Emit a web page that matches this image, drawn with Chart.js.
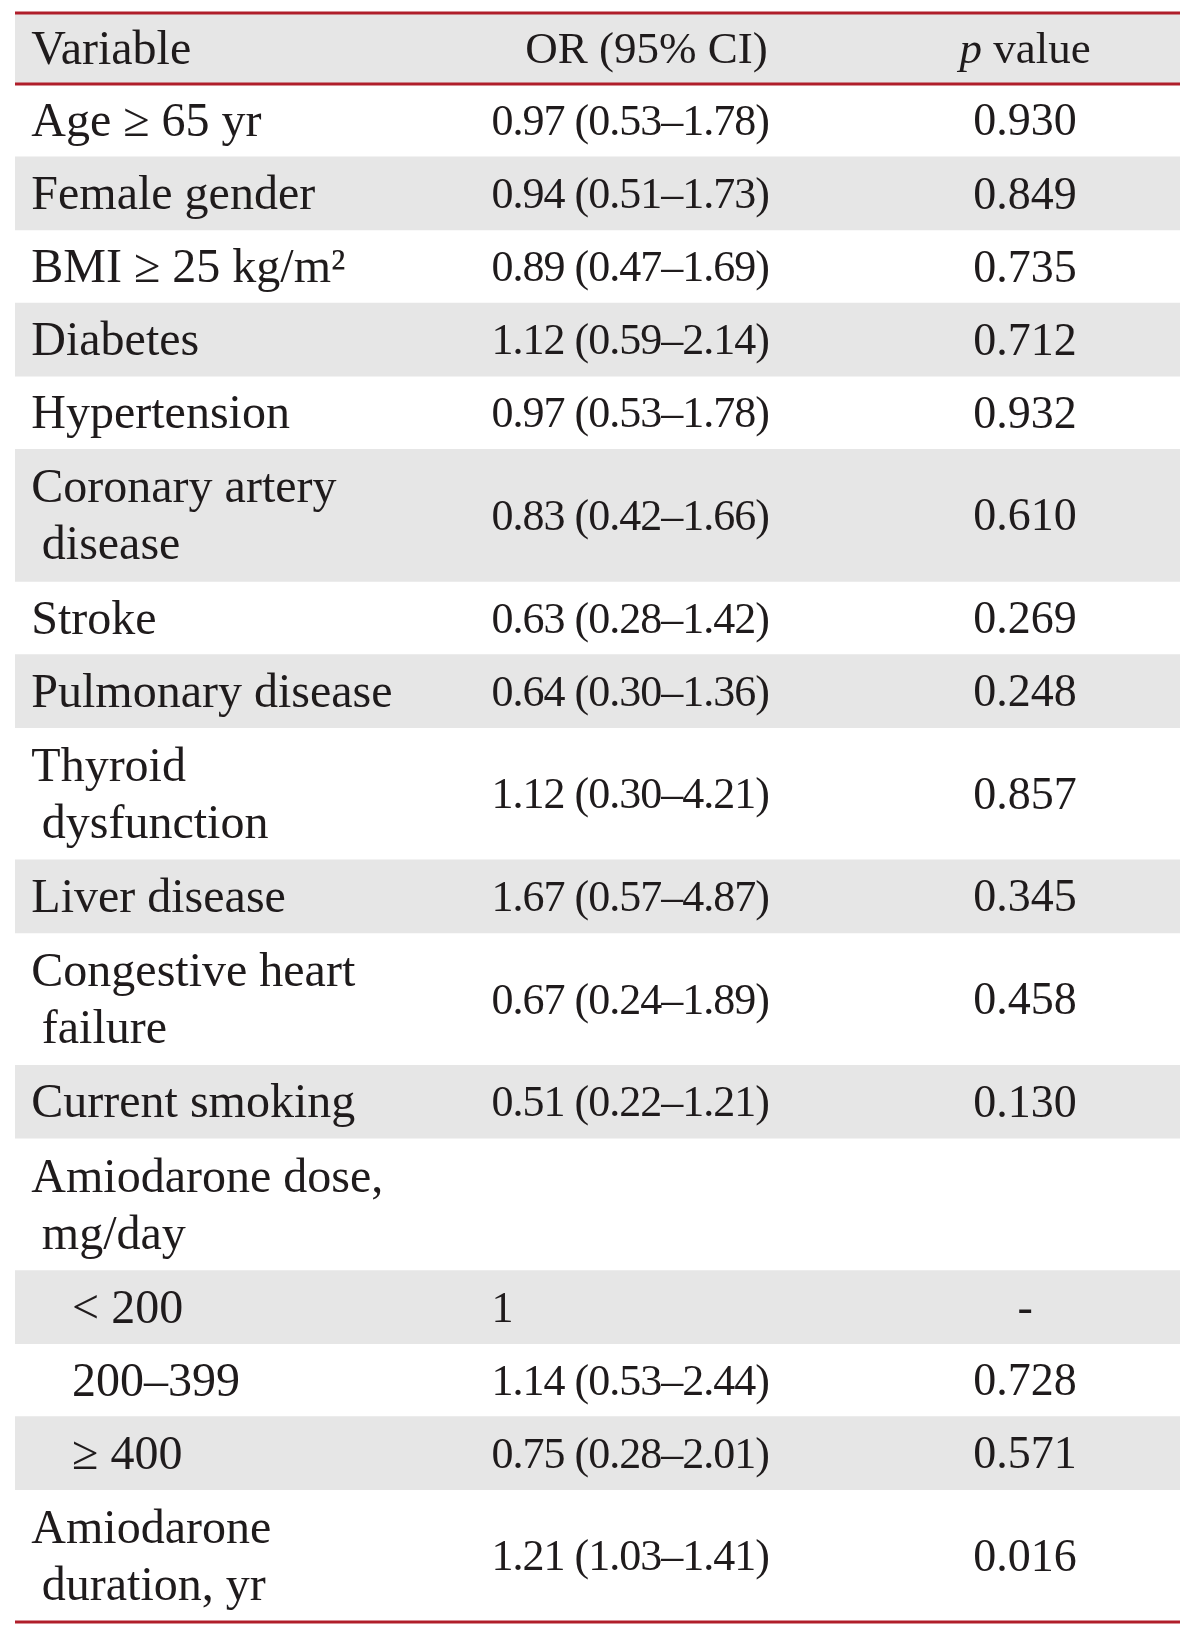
<!DOCTYPE html>
<html>
<head>
<meta charset="utf-8">
<script src="https://cdn.jsdelivr.net/npm/chart.js@4.4.1/dist/chart.umd.min.js"></script>
<style>
html, body { margin: 0; padding: 0; background: #fff; }
#wrap { width: 1200px; height: 1635px; position: relative; }
</style>
</head>
<body>
<div id="wrap"><canvas id="chart-or-table"></canvas></div>
<script>
// table content
var headers = ['Variable', 'OR (95% CI)', 'value'];
var variables = [
    'Age ≥ 65 yr', 'Female gender', 'BMI ≥ 25 kg/m²', 'Diabetes', 'Hypertension',
    'Coronary artery\ndisease', 'Stroke', 'Pulmonary disease', 'Thyroid\ndysfunction',
    'Liver disease', 'Congestive heart\nfailure', 'Current smoking',
    'Amiodarone dose,\nmg/day', '< 200', '200–399', '≥ 400', 'Amiodarone\nduration, yr'
];
var subRow = [false, false, false, false, false, false, false, false, false,
    false, false, false, false, true, true, true, false];
var orValues = [0.97, 0.94, 0.89, 1.12, 0.97, 0.83, 0.63, 0.64, 1.12, 1.67, 0.67, 0.51, null, 1, 1.14, 0.75, 1.21];
var ciLow = [0.53, 0.51, 0.47, 0.59, 0.53, 0.42, 0.28, 0.30, 0.30, 0.57, 0.24, 0.22, null, null, 0.53, 0.28, 1.03];
var ciHigh = [1.78, 1.73, 1.69, 2.14, 1.78, 1.66, 1.42, 1.36, 4.21, 4.87, 1.89, 1.21, null, null, 2.44, 2.01, 1.41];
var pValues = ['0.930', '0.849', '0.735', '0.712', '0.932', '0.610', '0.269', '0.248', '0.857',
    '0.345', '0.458', '0.130', '', '-', '0.728', '0.571', '0.016'];

var textColor = '#1f1b1c';
var stripeColor = '#e6e6e6';
var ruleColor = '#b01e2a';
var fontFamily = '"Liberation Serif", "DejaVu Serif", serif';
var labelFont = '48px ' + fontFamily;
var numFont = '44px ' + fontFamily;

// row heights in "line" units
var headerUnits = 0.97, oneLine = 1, twoLines = 1.81, lineGap = 0.78;
var rowStart = [], rowEnd = [];
var pos = headerUnits;
variables.forEach(function (v) {
    var h = v.split('\n').length > 1 ? twoLines : oneLine;
    rowStart.push(pos);
    pos += h;
    rowEnd.push(pos);
});
var totalUnits = pos;

// column anchors on a 0-100 scale across the table
var colVar = 1.4, colCont = 2.3, colSub = 4.9, colOr = 40.9, colOrHead = 54.2, colP = 86.7;
var textShift = 3; // px, optical centring of serif glyphs

function fmt(v) { return v.toFixed(2); }
function orText(i) {
    if (orValues[i] === null) return '';
    if (ciLow[i] === null) return String(orValues[i]);
    return fmt(orValues[i]) + ' (' + fmt(ciLow[i]) + '–' + fmt(ciHigh[i]) + ')';
}

// gray stripes: header + every second body row
var datasets = [{
    data: [[0, headerUnits]],
    backgroundColor: stripeColor
}];
for (var i = 1; i < variables.length; i += 2) {
    datasets.push({ data: [[rowStart[i], rowEnd[i]]], backgroundColor: stripeColor });
}
datasets.forEach(function (d) {
    d.grouped = false;
    d.borderWidth = 0;
    d.categoryPercentage = 1;
    d.barPercentage = 1;
});

var tableText = {
    id: 'tableText',
    afterDatasetsDraw: function (chart) {
        var ctx = chart.ctx;
        var y = chart.scales.y;
        var cx = chart.scales.colX;
        var area = chart.chartArea;
        var py = function (u) { return y.getPixelForValue(u) + textShift; };
        ctx.save();

        // red rules
        ctx.strokeStyle = ruleColor;
        ctx.lineWidth = 3;
        [0, headerUnits, totalUnits].forEach(function (u) {
            var ly = y.getPixelForValue(u);
            ctx.beginPath();
            ctx.moveTo(area.left, ly);
            ctx.lineTo(area.right, ly);
            ctx.stroke();
        });

        ctx.fillStyle = textColor;
        ctx.textBaseline = 'middle';

        // header
        var hy = py(headerUnits / 2);
        ctx.font = labelFont;
        ctx.textAlign = 'left';
        ctx.fillText(headers[0], cx.getPixelForValue(colVar), hy);
        ctx.font = '45px ' + fontFamily;
        ctx.textAlign = 'center';
        ctx.fillText(headers[1], cx.getPixelForValue(colOrHead), hy);
        var pw = ctx.measureText(' ' + headers[2]).width;
        ctx.font = 'italic 45px ' + fontFamily;
        var iw = ctx.measureText('p').width;
        var startX = cx.getPixelForValue(colP) - (iw + pw) / 2;
        ctx.textAlign = 'left';
        ctx.fillText('p', startX, hy);
        ctx.font = '45px ' + fontFamily;
        ctx.fillText(' ' + headers[2], startX + iw, hy);

        // body
        variables.forEach(function (v, i) {
            var mid = (rowStart[i] + rowEnd[i]) / 2;
            var lines = v.split('\n');
            ctx.textAlign = 'left';
            ctx.font = labelFont;
            if (lines.length > 1) {
                ctx.fillText(lines[0], cx.getPixelForValue(colVar), py(mid - lineGap / 2));
                ctx.fillText(lines[1], cx.getPixelForValue(colCont), py(mid + lineGap / 2));
            } else {
                ctx.fillText(v, cx.getPixelForValue(subRow[i] ? colSub : colVar), py(mid));
            }
            ctx.font = numFont;
            ctx.letterSpacing = '-1px';
            ctx.fillText(orText(i), cx.getPixelForValue(colOr), py(mid));
            ctx.letterSpacing = '0px';
            ctx.font = '46px ' + fontFamily;
            ctx.textAlign = 'center';
            ctx.fillText(pValues[i], cx.getPixelForValue(colP), py(mid));
        });
        ctx.restore();
    }
};

var tableChart = new Chart(document.getElementById('chart-or-table').getContext('2d'), {
    type: 'bar',
    data: { labels: ['table'], datasets: datasets },
    options: {
        responsive: true,
        maintainAspectRatio: false,
        animation: false,
        devicePixelRatio: 1,
        layout: { padding: { left: 15, right: 20, top: 13, bottom: 13 } },
        plugins: { legend: { display: false }, tooltip: { enabled: false } },
        scales: {
            x: { type: 'category', display: false, grid: { display: false } },
            colX: { type: 'linear', axis: 'x', position: 'bottom', min: 0, max: 100, offset: false, display: false },
            y: { type: 'linear', min: 0, max: totalUnits, reverse: true, offset: false, display: false }
        }
    },
    plugins: [tableText]
});
</script>
</body>
</html>
